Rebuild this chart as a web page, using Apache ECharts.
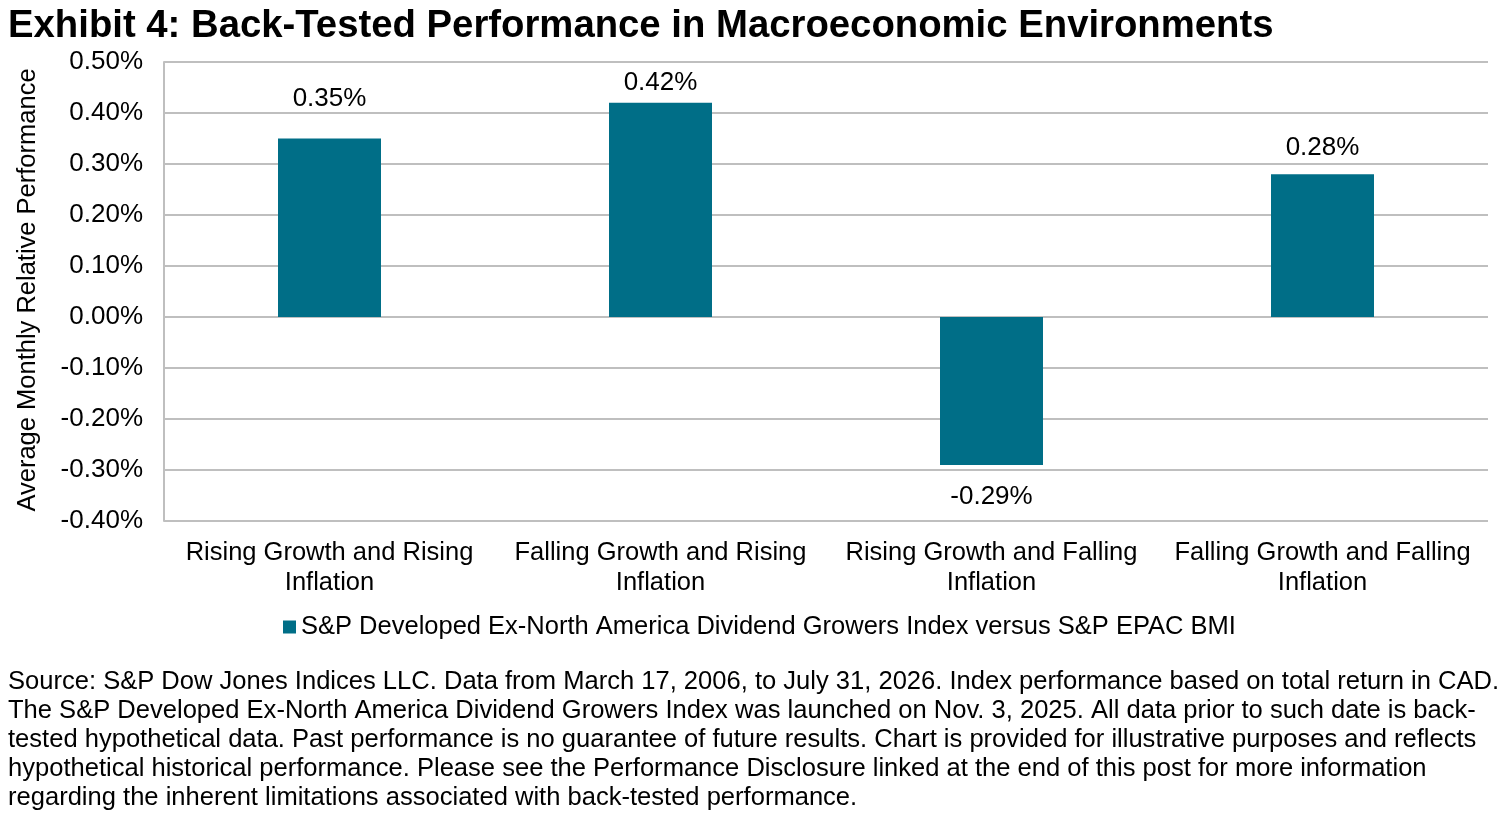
<!DOCTYPE html>
<html><head><meta charset="utf-8">
<script src="https://cdn.jsdelivr.net/npm/echarts@6/dist/echarts.min.js"></script>
<style>html,body{margin:0;padding:0;background:#fff}#c{width:1503px;height:817px}</style>
</head><body><div id="c"></div>
<script>
const categories = ["Rising Growth and Rising\nInflation","Falling Growth and Rising\nInflation","Rising Growth and Falling\nInflation","Falling Growth and Falling\nInflation"];
const values = [0.35, 0.42, -0.29, 0.28];
const labelDistances = [27, 7, 19, 13];
const seriesName = "S&P Developed Ex-North America Dividend Growers Index versus S&P EPAC BMI";
const titleText = "Exhibit 4: Back-Tested Performance in Macroeconomic Environments";
const yAxisTitle = "Average Monthly Relative Performance";
const sourceLines = [
"Source: S&P Dow Jones Indices LLC. Data from March 17, 2006, to July 31, 2026. Index performance based on total return in CAD.",
"The S&P Developed Ex-North America Dividend Growers Index was launched on Nov. 3, 2025. All data prior to such date is back-",
"tested hypothetical data. Past performance is no guarantee of future results. Chart is provided for illustrative purposes and reflects",
"hypothetical historical performance. Please see the Performance Disclosure linked at the end of this post for more information",
"regarding the inherent limitations associated with back-tested performance."
];
const FONT = "'Liberation Sans', Arial, sans-serif";
const chart = echarts.init(document.getElementById('c'));
const graphics = [
  {type:'text', x:8, y:26, style:{text:titleText, font:"bold 38.3px "+FONT, fill:'#000', verticalAlign:'middle'}},
  {type:'text', x:28, y:290, rotation:Math.PI/2, style:{text:yAxisTitle, font:"25.5px "+FONT, fill:'#000', align:'center', verticalAlign:'middle'}}
];
sourceLines.forEach((t,i)=>graphics.push({type:'text', x:8, y:682+i*29, style:{text:t, font:"25.55px "+FONT, fill:'#000', verticalAlign:'middle'}}));
chart.setOption({
  animation:false,
  textStyle:{fontFamily:FONT},
  grid:{left:164, right:15, top:62, bottom:296},
  legend:{left:283, top:614, padding:0, itemWidth:13, itemHeight:13, itemGap:6, icon:'rect',
    textStyle:{fontSize:25.5, color:'#000', fontFamily:FONT}, data:[seriesName]},
  xAxis:{type:'category', data:categories,
    axisLine:{show:false}, axisTick:{show:false},
    axisLabel:{color:'#000', fontSize:25.5, lineHeight:30, margin:17, interval:0, fontFamily:FONT}},
  yAxis:{type:'value', min:-0.4, max:0.5, interval:0.1,
    axisLine:{show:true, lineStyle:{color:'#BFBFBF', width:2}},
    axisTick:{show:false},
    splitLine:{lineStyle:{color:'#BFBFBF', width:2}},
    axisLabel:{color:'#000', fontSize:26, margin:21, fontFamily:FONT, formatter:v=>v.toFixed(2)+'%'}},
  series:[{name:seriesName, type:'bar', barWidth:103,
    itemStyle:{color:'#006E87'},
    data: values.map((v,i)=>({value:v, label:{show:true, position: v>=0?'top':'bottom', distance:labelDistances[i]}})),
    label:{color:'#000', fontSize:26, fontFamily:FONT, formatter:p=>p.value.toFixed(2)+'%'}
  }],
  graphic:graphics
});
</script></body></html>
